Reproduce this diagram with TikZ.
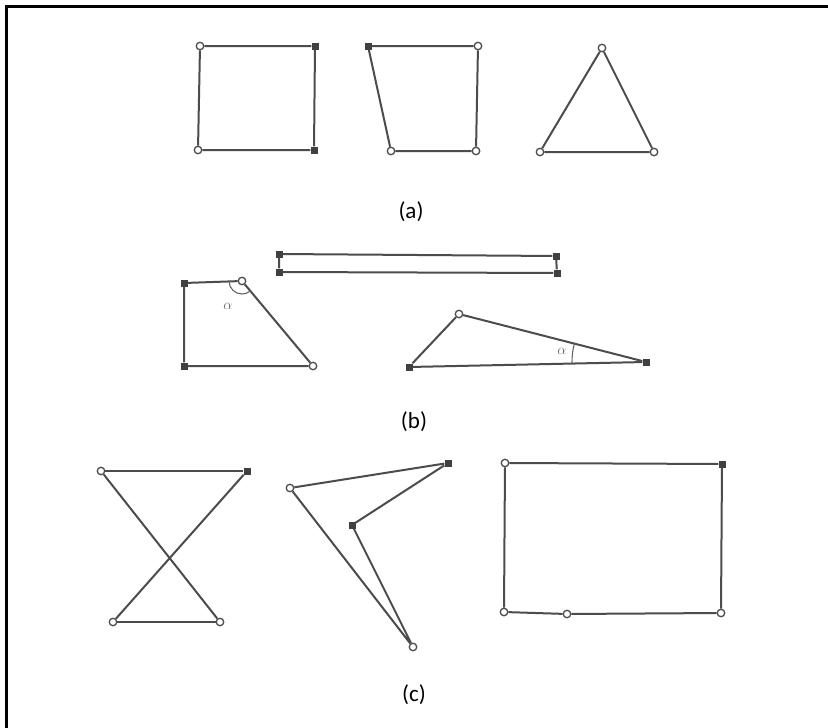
\documentclass[tikz,border=0pt]{standalone}
\usepackage{fontspec}
\setmainfont{Carlito}
\begin{document}
\begin{tikzpicture}[x=1pt,y=-1pt,
  edge/.style={draw=black!70,line width=2pt},
  vo/.style={circle,draw=black!70,line width=1.3pt,fill=white,inner sep=0pt,minimum size=7.5pt},
  vf/.style={rectangle,fill=black!75,inner sep=0pt,minimum size=7pt},
  captxt/.style={font=\fontsize{23}{27}\selectfont,text=black},
  ang/.style={draw=black!60,line width=1.1pt},
  alab/.style={text=black!60,font=\fontsize{14}{16}\selectfont}]
\useasboundingbox (0,0) rectangle (828,728);
\fill[white] (0,0) rectangle (828,728);
% frame (top and left only)
\draw[line width=3pt,black] (6,728) -- (6,6) -- (828,6);

% ---------- (a) ----------
\node[vo] (a1) at (200,46) {};
\node[vf] (a2) at (315,46) {};
\node[vo] (a3) at (198,150) {};
\node[vf] (a4) at (314,150) {};
\draw[edge] (a1) -- (a2) -- (a4) -- (a3) -- (a1);

\node[vf] (b1) at (368,46) {};
\node[vo] (b2) at (478,46) {};
\node[vo] (b3) at (391,151) {};
\node[vo] (b4) at (476,151) {};
\draw[edge] (b1) -- (b2) -- (b4) -- (b3) -- (b1);

\node[vo] (c1) at (602,48) {};
\node[vo] (c2) at (540,152) {};
\node[vo] (c3) at (654,152) {};
\draw[edge] (c1) -- (c3) -- (c2) -- (c1);

\node[captxt] (la) at (411,212) {(a)};

% ---------- (b) ----------
\node[vf] (r1) at (279,254) {};
\node[vf] (r2) at (556,256) {};
\node[vf] (r3) at (279,272) {};
\node[vf] (r4) at (557,273) {};
\draw[edge] (r1) -- (r2) -- (r4) -- (r3) -- (r1);

\node[vf] (t1) at (184,283) {};
\node[vo] (t2) at (242,281) {};
\node[vf] (t3) at (184,366) {};
\node[vo] (t4) at (313,366) {};
\draw[edge] (t1) -- (t2) -- (t4) -- (t3) -- (t1);
\draw[ang] ([shift={(180:13pt)}]t2.center) arc[start angle=180,end angle=310,radius=13pt];
\node[alab] (al1) at (228,306) {$\alpha$};

\node[vf] (s1) at (409,367) {};
\node[vo] (s2) at (459,314) {};
\node[vf] (s3) at (646,362) {};
\draw[edge] (s1) -- (s2) -- (s3) -- (s1);
\draw[ang] ([shift={(165:74pt)}]s3.center) arc[start angle=165,end angle=181,radius=74pt];
\node[alab] (al2) at (562,351) {$\alpha$};

\node[captxt] (lb) at (414,422) {(b)};

% ---------- (c) ----------
\node[vo] (x1) at (101,471) {};
\node[vf] (x2) at (247,471) {};
\node[vo] (x3) at (113,622) {};
\node[vo] (x4) at (220,622) {};
\draw[edge] (x1) -- (x2);
\draw[edge] (x3) -- (x4);
\draw[edge] (x1) -- (x4);
\draw[edge] (x2) -- (x3);

\node[vo] (y1) at (290,488) {};
\node[vf] (y2) at (448,463) {};
\node[vf] (y3) at (352,525) {};
\node[vo] (y4) at (413,647) {};
\draw[edge] (y1) -- (y2) -- (y3) -- (y4) -- (y1);

\node[vo] (z1) at (505,463) {};
\node[vf] (z2) at (722,464) {};
\node[vo] (z3) at (504,612) {};
\node[vo] (z4) at (721,613) {};
\node[vo] (z5) at (567,614) {};
\draw[edge] (z1) -- (z2) -- (z4) -- (z5) -- (z3) -- (z1);

\node[captxt] (lc) at (414,695) {(c)};
\end{tikzpicture}
\end{document}
